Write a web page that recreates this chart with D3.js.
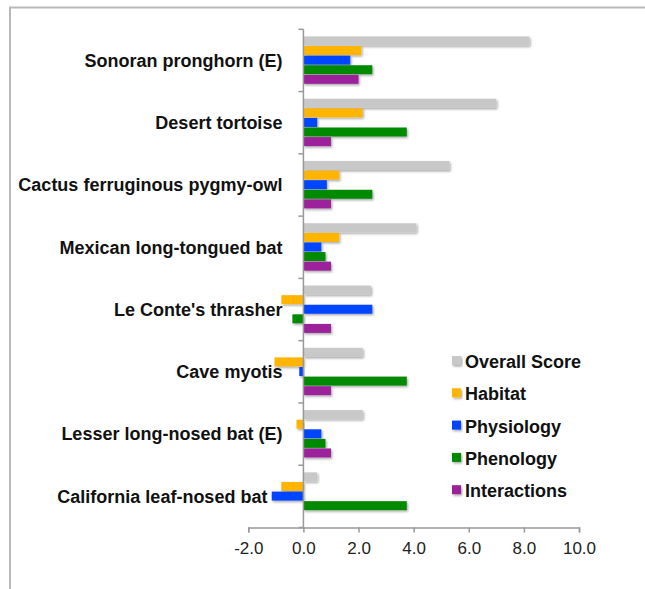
<!DOCTYPE html>
<html>
<head>
<meta charset="utf-8">
<script src="https://cdn.jsdelivr.net/npm/d3@7"></script>
<style>
  body { margin: 0; background: #fff; }
  #graf { width: 645px; height: 589px; }
  .cats text { font-family: "Liberation Sans", Arial, sans-serif; font-weight: bold; font-size: 18px; fill: #111; }
  .ticks text { font-family: "Liberation Sans", Arial, sans-serif; font-size: 17px; fill: #222; }
  .leyenda text { font-family: "Liberation Sans", Arial, sans-serif; font-weight: bold; font-size: 18px; fill: #111; }
</style>
</head>
<body>
<div id="graf"></div>
<script>
// especies (de arriba hacia abajo)
const especies = [
  "Sonoran pronghorn (E)",
  "Desert tortoise",
  "Cactus ferruginous pygmy-owl",
  "Mexican long-tongued bat",
  "Le Conte's thrasher",
  "Cave myotis",
  "Lesser long-nosed bat (E)",
  "California leaf-nosed bat\u00a0\u00a0\u00a0"
]
const series = ["Overall Score", "Habitat", "Physiology", "Phenology", "Interactions"]
const colores = ["#c8c8c8", "#ffb400", "#0044ff", "#008a00", "#9c229c"]

const overall      = [8.2, 7.0, 5.3, 4.1, 2.45, 2.15, 2.15, 0.5]
const habitat      = [2.1, 2.15, 1.3, 1.3, -0.8, -1.05, -0.25, -0.8]
const physiology   = [1.7, 0.5, 0.85, 0.65, 2.5, -0.15, 0.65, -1.15]
const phenology    = [2.5, 3.75, 2.5, 0.8, -0.4, 3.75, 0.8, 3.75]
const interactions = [2.0, 1.0, 1.0, 1.0, 1.0, 1.0, 1.0, 0]

const xTicks = [-2, 0, 2, 4, 6, 8, 10]

const valores = [overall, habitat, physiology, phenology, interactions]

const svg = d3.select("#graf").append("svg")
  .attr("width", 645)
  .attr("height", 589)

// sombra de las barras
const filtro = svg.append("defs").append("filter")
  .attr("id", "sombra")
  .attr("x", "-10%").attr("y", "-30%")
  .attr("width", "130%").attr("height", "170%")
filtro.append("feDropShadow")
  .attr("dx", 1.2).attr("dy", 1.5)
  .attr("stdDeviation", 0.9)
  .attr("flood-color", "#000")
  .attr("flood-opacity", 0.35)

// marco
svg.append("path")
  .attr("d", "M10,589 V7.5 H645")
  .attr("fill", "none")
  .attr("stroke", "#b9b9b9")
  .attr("stroke-width", 2)

const x = d3.scaleLinear().domain([-2, 10]).range([248.3, 579])
const y = d3.scaleBand().domain(especies).range([29.3, 527.5])
  .paddingInner(0.23).paddingOuter(0.115)
const ySub = d3.scaleBand().domain(series).range([0, y.bandwidth()])

const datos = especies.flatMap((e, i) =>
  series.map((s, j) => ({ especie: e, serie: s, valor: valores[j][i], color: colores[j] })))

const g = svg.append("g")

g.selectAll("rect.barra").data(datos.filter(d => d.valor !== 0))
  .enter()
  .append("rect")
  .attr("class", "barra")
  .attr("x", d => x(Math.min(0, d.valor)))
  .attr("width", d => Math.abs(x(d.valor) - x(0)))
  .attr("y", d => y(d.especie) + ySub(d.serie))
  .attr("height", ySub.bandwidth() - 0.6)
  .attr("fill", d => d.color)
  .attr("filter", "url(#sombra)")

// eje x
const xAxis = d3.axisBottom(x).tickValues(xTicks).tickFormat(d3.format(".1f")).tickSize(5).tickPadding(9)
const gx = svg.append("g")
  .attr("class", "ticks")
  .attr("transform", `translate(0, 527.5)`)
  .call(xAxis)
gx.select(".domain").attr("stroke", "#999").attr("stroke-width", 1.5)
gx.selectAll(".tick line").attr("stroke", "#999").attr("stroke-width", 1.5)
gx.selectAll(".tick text").text(d => d3.format(".1f")(d).replace("−", "-"))

// eje y (en el cero)
const fronteras = especies.map(e => y(e) - y.step() * y.paddingOuter()).concat([527.5])
const gy = svg.append("g").attr("class", "cats")
gy.append("line")
  .attr("x1", x(0)).attr("x2", x(0))
  .attr("y1", 29.3).attr("y2", 527.5)
  .attr("stroke", "#999").attr("stroke-width", 1.5)
gy.selectAll("line.tk").data(fronteras).enter().append("line")
  .attr("class", "tk")
  .attr("x1", x(0) - 5).attr("x2", x(0))
  .attr("y1", d => d).attr("y2", d => d)
  .attr("stroke", "#999").attr("stroke-width", 1.5)
gy.selectAll("text").data(especies).enter().append("text")
  .attr("x", x(0) - 21)
  .attr("y", d => y(d) + y.bandwidth() / 2)
  .attr("dy", "0.35em")
  .attr("text-anchor", "end")
  .text(d => d)

// leyenda
const ley = svg.append("g").attr("class", "leyenda")
const fila = ley.selectAll("g").data(series).enter().append("g")
  .attr("transform", (d, i) => `translate(452, ${356 + i * 32.3})`)
fila.append("rect")
  .attr("width", 9).attr("height", 9)
  .attr("fill", (d, i) => colores[i])
  .attr("filter", "url(#sombra)")
fila.append("text")
  .attr("x", 13).attr("y", 12)
  .text(d => d)
</script>
</body>
</html>
